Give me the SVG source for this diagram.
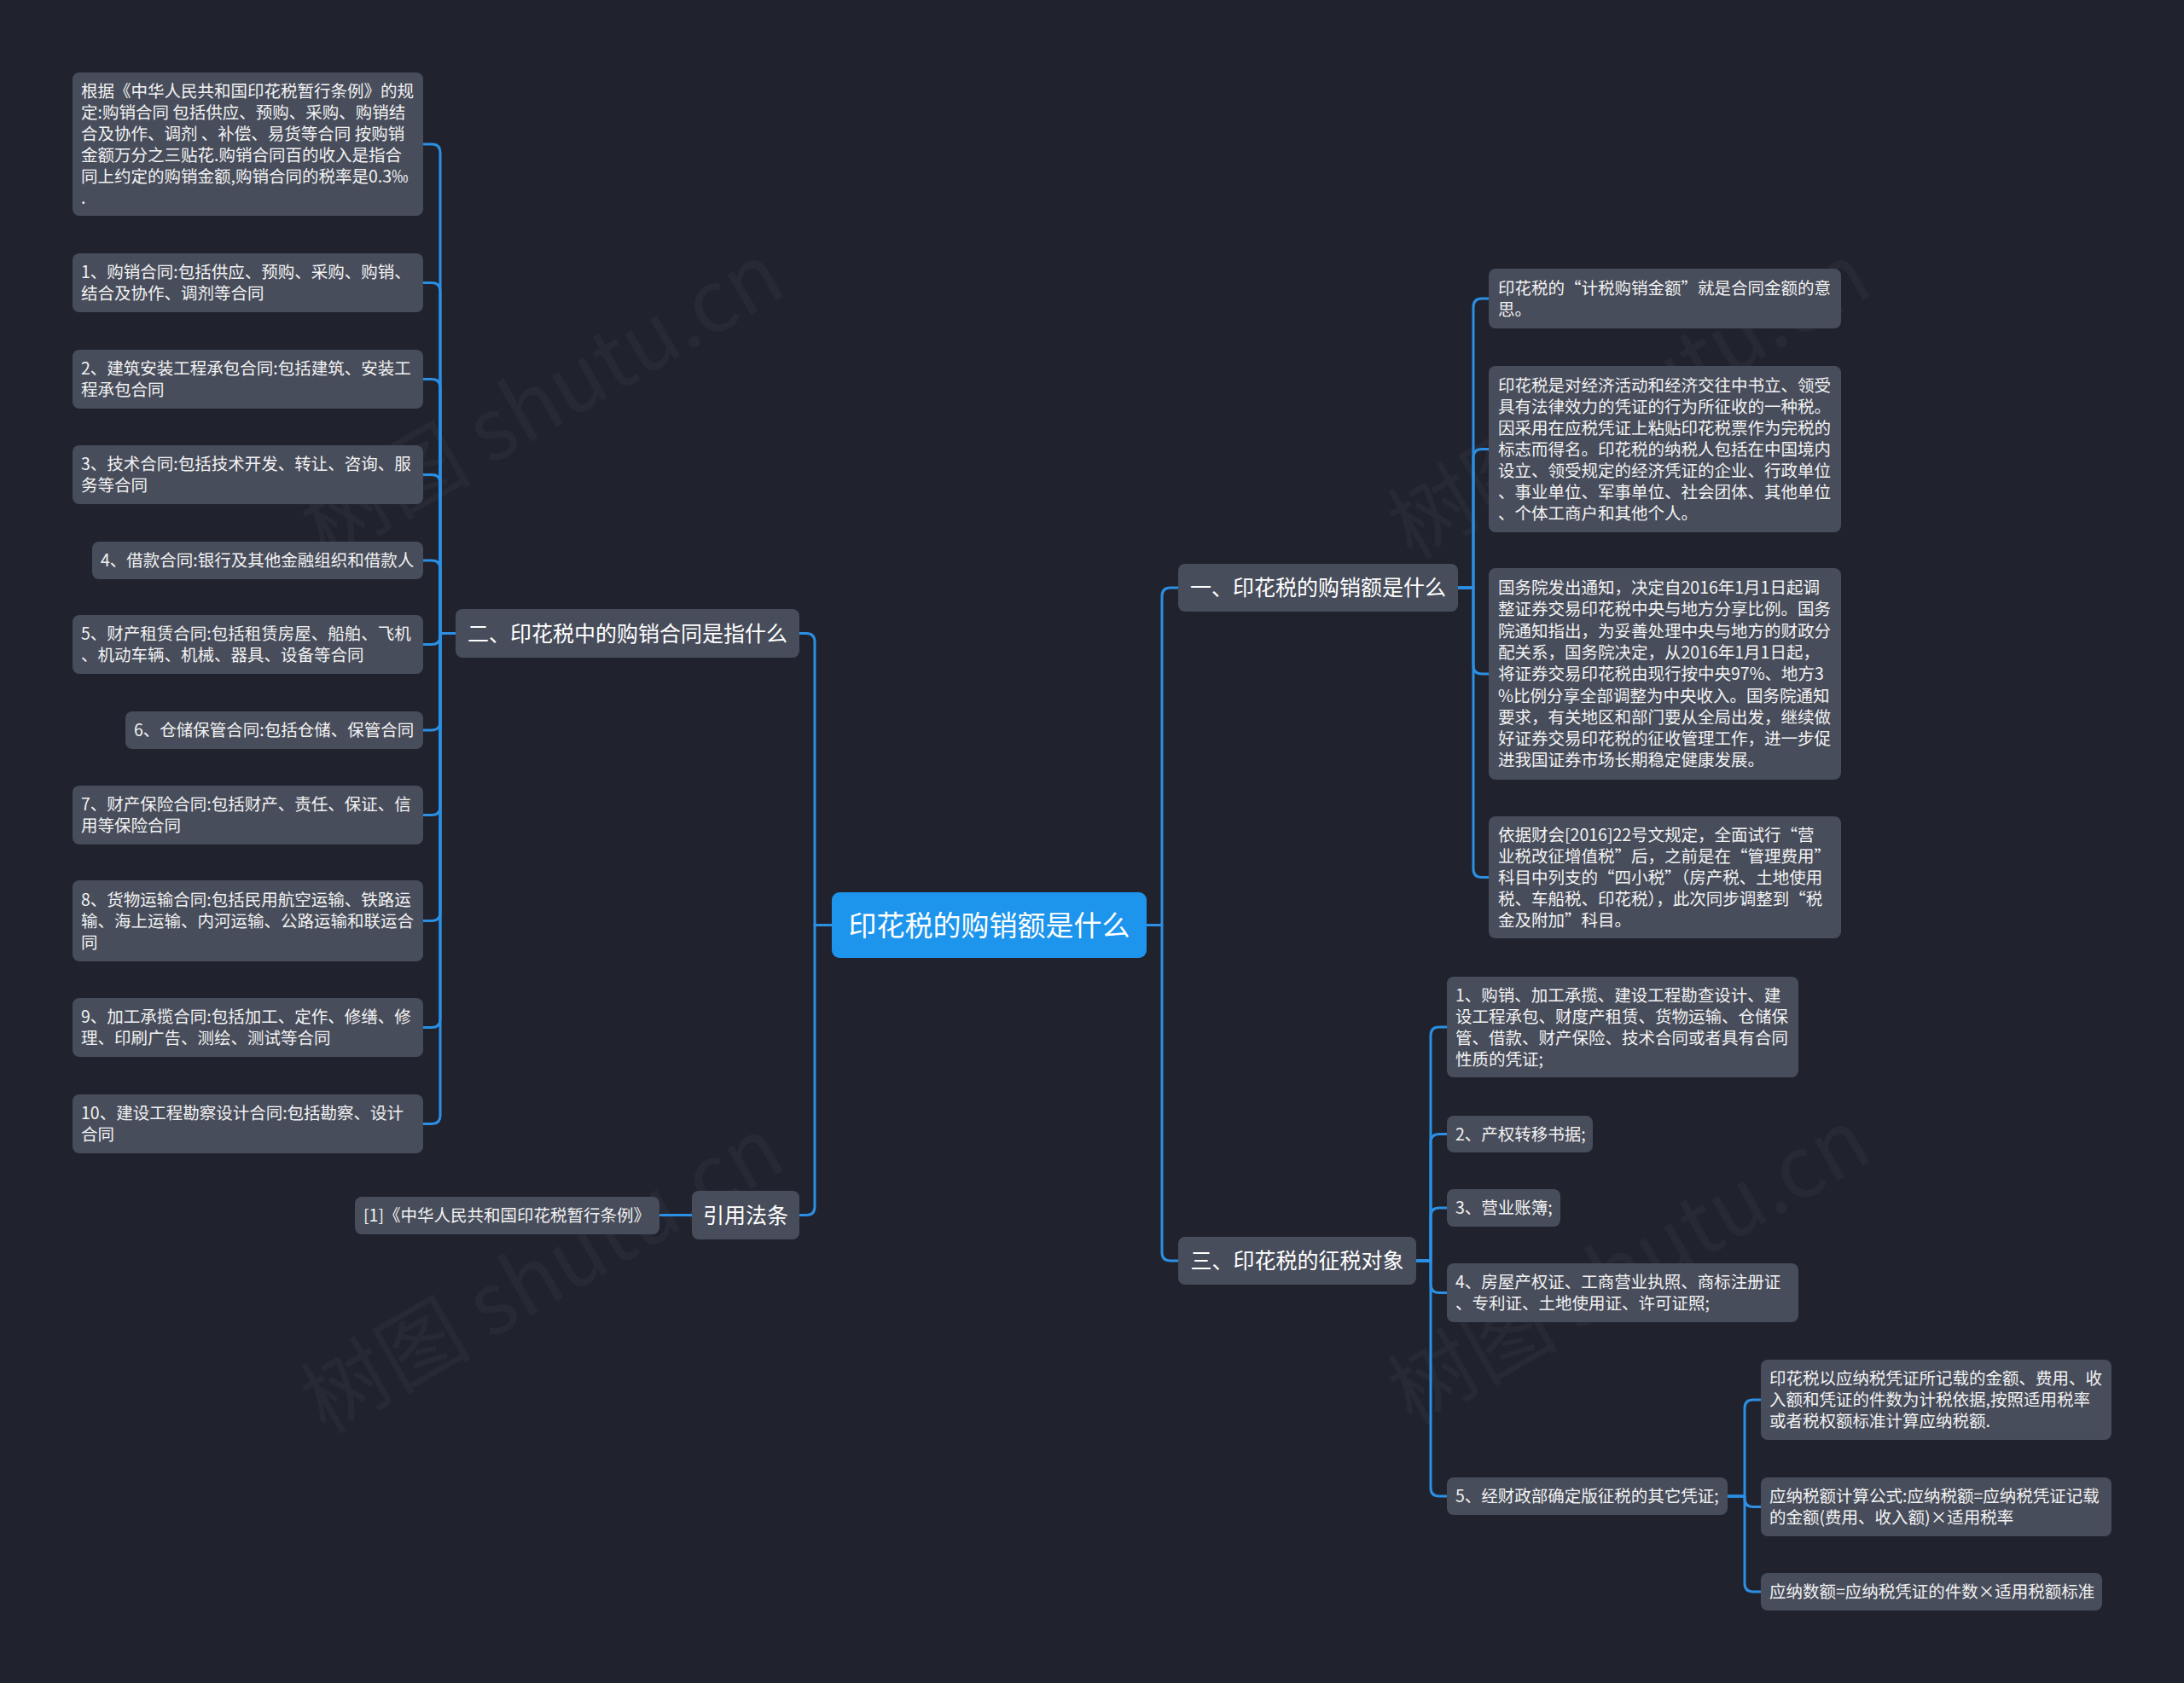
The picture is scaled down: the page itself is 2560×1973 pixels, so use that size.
<svg xmlns="http://www.w3.org/2000/svg" width="2560" height="1973" viewBox="0 0 2560 1973">
<style>
.bg{fill:#20232e}
.box{fill:#484d5b}
.root{fill:#1e95ec}
.t{font-family:"Noto Sans CJK SC","Noto Sans",sans-serif;fill:#f2f2f2;font-size:19.5px}
.tb{font-family:"Noto Sans CJK SC","Noto Sans",sans-serif;fill:#ffffff;font-size:25px;text-anchor:middle}
.tr{font-family:"Noto Sans CJK SC","Noto Sans",sans-serif;fill:#ffffff;font-size:33px;text-anchor:middle}
.wm{font-family:"Noto Sans CJK SC","Noto Sans",sans-serif;fill:#ffffff;fill-opacity:0.035;font-size:100px;text-anchor:middle}
#connectors path{fill:none;stroke:#2b8fe3;stroke-width:3;stroke-linecap:round;stroke-linejoin:round}
</style>
<rect class="bg" x="0" y="0" width="2560" height="1973"/>

<g id="watermarks">
<text class="wm" transform="translate(653 500) rotate(-30)">树图 shutu.cn</text>
<text class="wm" transform="translate(653 1525) rotate(-30)">树图 shutu.cn</text>
<text class="wm" transform="translate(1927 500) rotate(-30)">树图 shutu.cn</text>
<text class="wm" transform="translate(1927 1515) rotate(-30)">树图 shutu.cn</text>
</g>

<g id="connectors">
<path d="M975 1084.5H955V752.5Q955 742.5 945 742.5H937"/>
<path d="M975 1084.5H955V1414.5Q955 1424.5 945 1424.5H937"/>
<path d="M1344 1084.5H1362V699Q1362 689 1372 689H1381"/>
<path d="M1344 1084.5H1362V1468Q1362 1478 1372 1478H1381"/>
<path d="M811 1424.5H773"/>
<path d="M534 742.5H516V179Q516 169 506 169H496"/>
<path d="M534 742.5H516V341.5Q516 331.5 506 331.5H496"/>
<path d="M534 742.5H516V454.5Q516 444.5 506 444.5H496"/>
<path d="M534 742.5H516V566.5Q516 556.5 506 556.5H496"/>
<path d="M534 742.5H516V667Q516 657 506 657H496"/>
<path d="M534 742.5H516V745.5Q516 755.5 506 755.5H496"/>
<path d="M534 742.5H516V846Q516 856 506 856H496"/>
<path d="M534 742.5H516V945.5Q516 955.5 506 955.5H496"/>
<path d="M534 742.5H516V1069.5Q516 1079.5 506 1079.5H496"/>
<path d="M534 742.5H516V1194.5Q516 1204.5 506 1204.5H496"/>
<path d="M534 742.5H516V1307.5Q516 1317.5 506 1317.5H496"/>
<path d="M1709 689H1727V360Q1727 350 1737 350H1745"/>
<path d="M1709 689H1727V536.5Q1727 526.5 1737 526.5H1745"/>
<path d="M1709 689H1727V780Q1727 790 1737 790H1745"/>
<path d="M1709 689H1727V1018.5Q1727 1028.5 1737 1028.5H1745"/>
<path d="M1660 1478H1677V1214Q1677 1204 1687 1204H1696"/>
<path d="M1660 1478H1677V1339.5Q1677 1329.5 1687 1329.5H1696"/>
<path d="M1660 1478H1677V1426Q1677 1416 1687 1416H1696"/>
<path d="M1660 1478H1677V1505.5Q1677 1515.5 1687 1515.5H1696"/>
<path d="M1660 1478H1677V1744Q1677 1754 1687 1754H1696"/>
<path d="M2025 1754H2045V1651Q2045 1641 2055 1641H2064"/>
<path d="M2025 1754H2045V1756.5Q2045 1766.5 2055 1766.5H2064"/>
<path d="M2025 1754H2045V1856Q2045 1866 2055 1866H2064"/>
</g>

<g id="root">
<rect class="root" x="975" y="1046" width="369" height="77" rx="9"/>
<text class="tr" x="1159.5" y="1096.7">印花税的购销额是什么</text>
</g>

<g id="b2">
<rect class="box" x="534" y="714" width="403" height="57" rx="8"/>
<text class="tb" x="735.5" y="751.7">二、印花税中的购销合同是指什么</text>
</g>
<g id="law">
<rect class="box" x="811" y="1396" width="126" height="57" rx="8"/>
<text class="tb" x="874" y="1433.7">引用法条</text>
</g>
<g id="b1">
<rect class="box" x="1381" y="661" width="328" height="56" rx="8"/>
<text class="tb" x="1545" y="698.2">一、印花税的购销额是什么</text>
</g>
<g id="b3">
<rect class="box" x="1381" y="1450" width="279" height="56" rx="8"/>
<text class="tb" x="1520.5" y="1487.2">三、印花税的征税对象</text>
</g>

<g id="lawref">
<rect class="box" x="416" y="1403" width="357" height="44" rx="8"/>
<text class="t" x="426" y="1432.2">[1]《中华人民共和国印花税暂行条例》</text>
</g>

<g id="l0">
<rect class="box" x="85" y="85" width="411" height="168" rx="8"/>
<text class="t" x="95" y="113.7">根据《中华人民共和国印花税暂行条例》的规<tspan x="95" dy="25">定:购销合同 包括供应、预购、采购、购销结</tspan><tspan x="95" dy="25">合及协作、调剂 、补偿、易货等合同 按购销</tspan><tspan x="95" dy="25">金额万分之三贴花.购销合同百的收入是指合</tspan><tspan x="95" dy="25">同上约定的购销金额,购销合同的税率是0.3‰</tspan><tspan x="95" dy="25">.</tspan></text>
</g>
<g id="l1">
<rect class="box" x="85" y="297" width="411" height="69" rx="8"/>
<text class="t" x="95" y="326.2">1、购销合同:包括供应、预购、采购、购销、<tspan x="95" dy="25">结合及协作、调剂等合同</tspan></text>
</g>
<g id="l2">
<rect class="box" x="85" y="410" width="411" height="69" rx="8"/>
<text class="t" x="95" y="439.2">2、建筑安装工程承包合同:包括建筑、安装工<tspan x="95" dy="25">程承包合同</tspan></text>
</g>
<g id="l3">
<rect class="box" x="85" y="522" width="411" height="69" rx="8"/>
<text class="t" x="95" y="551.2">3、技术合同:包括技术开发、转让、咨询、服<tspan x="95" dy="25">务等合同</tspan></text>
</g>
<g id="l4">
<rect class="box" x="108" y="635" width="388" height="44" rx="8"/>
<text class="t" x="118" y="664.2">4、借款合同:银行及其他金融组织和借款人</text>
</g>
<g id="l5">
<rect class="box" x="85" y="721" width="411" height="69" rx="8"/>
<text class="t" x="95" y="750.2">5、财产租赁合同:包括租赁房屋、船舶、飞机<tspan x="95" dy="25">、机动车辆、机械、器具、设备等合同</tspan></text>
</g>
<g id="l6">
<rect class="box" x="147" y="834" width="349" height="44" rx="8"/>
<text class="t" x="157" y="863.2">6、仓储保管合同:包括仓储、保管合同</text>
</g>
<g id="l7">
<rect class="box" x="85" y="921" width="411" height="69" rx="8"/>
<text class="t" x="95" y="950.2">7、财产保险合同:包括财产、责任、保证、信<tspan x="95" dy="25">用等保险合同</tspan></text>
</g>
<g id="l8">
<rect class="box" x="85" y="1032" width="411" height="95" rx="8"/>
<text class="t" x="95" y="1061.7">8、货物运输合同:包括民用航空运输、铁路运<tspan x="95" dy="25">输、海上运输、内河运输、公路运输和联运合</tspan><tspan x="95" dy="25">同</tspan></text>
</g>
<g id="l9">
<rect class="box" x="85" y="1170" width="411" height="69" rx="8"/>
<text class="t" x="95" y="1199.2">9、加工承揽合同:包括加工、定作、修缮、修<tspan x="95" dy="25">理、印刷广告、测绘、测试等合同</tspan></text>
</g>
<g id="l10">
<rect class="box" x="85" y="1283" width="411" height="69" rx="8"/>
<text class="t" x="95" y="1312.2">10、建设工程勘察设计合同:包括勘察、设计<tspan x="95" dy="25">合同</tspan></text>
</g>

<g id="r1">
<rect class="box" x="1745" y="315" width="413" height="70" rx="8"/>
<text class="t" x="1756" y="344.7">印花税的“计税购销金额”就是合同金额的意<tspan x="1756" dy="25">思。</tspan></text>
</g>
<g id="r2">
<rect class="box" x="1745" y="429" width="413" height="195" rx="8"/>
<text class="t" x="1756" y="458.7">印花税是对经济活动和经济交往中书立、领受<tspan x="1756" dy="25">具有法律效力的凭证的行为所征收的一种税。</tspan><tspan x="1756" dy="25">因采用在应税凭证上粘贴印花税票作为完税的</tspan><tspan x="1756" dy="25">标志而得名。印花税的纳税人包括在中国境内</tspan><tspan x="1756" dy="25">设立、领受规定的经济凭证的企业、行政单位</tspan><tspan x="1756" dy="25">、事业单位、军事单位、社会团体、其他单位</tspan><tspan x="1756" dy="25">、个体工商户和其他个人。</tspan></text>
</g>
<g id="r3">
<rect class="box" x="1745" y="666" width="413" height="248" rx="8"/>
<text class="t" x="1756" y="696">国务院发出通知，决定自2016年1月1日起调<tspan x="1756" dy="25.3">整证券交易印花税中央与地方分享比例。国务</tspan><tspan x="1756" dy="25.3">院通知指出，为妥善处理中央与地方的财政分</tspan><tspan x="1756" dy="25.3">配关系，国务院决定，从2016年1月1日起，</tspan><tspan x="1756" dy="25.3">将证券交易印花税由现行按中央97%、地方3</tspan><tspan x="1756" dy="25.3">%比例分享全部调整为中央收入。国务院通知</tspan><tspan x="1756" dy="25.3">要求，有关地区和部门要从全局出发，继续做</tspan><tspan x="1756" dy="25.3">好证券交易印花税的征收管理工作，进一步促</tspan><tspan x="1756" dy="25.3">进我国证券市场长期稳定健康发展。</tspan></text>
</g>
<g id="r4">
<rect class="box" x="1745" y="957" width="413" height="143" rx="8"/>
<text class="t" x="1756" y="985.7">依据财会[2016]22号文规定，全面试行“营<tspan x="1756" dy="25">业税改征增值税”后，之前是在“管理费用”</tspan><tspan x="1756" dy="25">科目中列支的“四小税”（房产税、土地使用</tspan><tspan x="1756" dy="25">税、车船税、印花税），此次同步调整到“税</tspan><tspan x="1756" dy="25">金及附加”科目。</tspan></text>
</g>

<g id="s1">
<rect class="box" x="1696" y="1145" width="412" height="118" rx="8"/>
<text class="t" x="1706" y="1173.7">1、购销、加工承揽、建设工程勘查设计、建<tspan x="1706" dy="25">设工程承包、财度产租赁、货物运输、仓储保</tspan><tspan x="1706" dy="25">管、借款、财产保险、技术合同或者具有合同</tspan><tspan x="1706" dy="25">性质的凭证;</tspan></text>
</g>
<g id="s2">
<rect class="box" x="1696" y="1308" width="171" height="43" rx="8"/>
<text class="t" x="1706" y="1336.7">2、产权转移书据;</text>
</g>
<g id="s3">
<rect class="box" x="1696" y="1394" width="133" height="44" rx="8"/>
<text class="t" x="1706" y="1423.2">3、营业账簿;</text>
</g>
<g id="s4">
<rect class="box" x="1696" y="1481" width="412" height="69" rx="8"/>
<text class="t" x="1706" y="1510.2">4、房屋产权证、工商营业执照、商标注册证<tspan x="1706" dy="25">、专利证、土地使用证、许可证照;</tspan></text>
</g>
<g id="s5">
<rect class="box" x="1696" y="1732" width="329" height="44" rx="8"/>
<text class="t" x="1706" y="1761.2">5、经财政部确定版征税的其它凭证;</text>
</g>

<g id="t1">
<rect class="box" x="2064" y="1594" width="411" height="94" rx="8"/>
<text class="t" x="2074" y="1623.2">印花税以应纳税凭证所记载的金额、费用、收<tspan x="2074" dy="25">入额和凭证的件数为计税依据,按照适用税率</tspan><tspan x="2074" dy="25">或者税权额标准计算应纳税额.</tspan></text>
</g>
<g id="t2">
<rect class="box" x="2064" y="1732" width="411" height="69" rx="8"/>
<text class="t" x="2074" y="1761.2">应纳税额计算公式:应纳税额=应纳税凭证记载<tspan x="2074" dy="25">的金额(费用、收入额)×适用税率</tspan></text>
</g>
<g id="t3">
<rect class="box" x="2064" y="1844" width="400" height="44" rx="8"/>
<text class="t" x="2074" y="1873.2">应纳数额=应纳税凭证的件数×适用税额标准</text>
</g>
</svg>
